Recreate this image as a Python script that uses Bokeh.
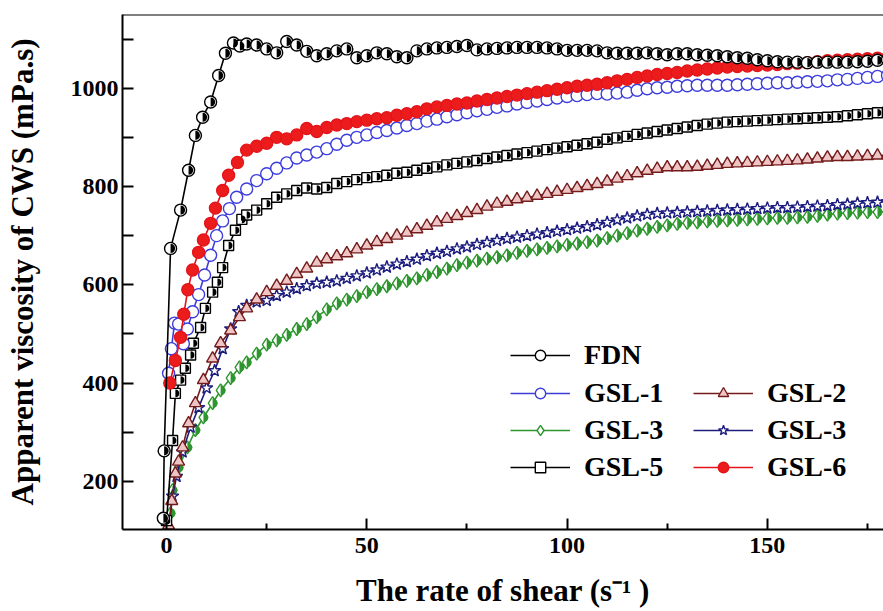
import math
from bokeh.plotting import figure
from bokeh.models import FixedTicker, Legend, LegendItem, Span, ColumnDataSource
from bokeh.embed import file_html
from bokeh.resources import INLINE

# ---------------- data ----------------
shear_tail = [20, 22.5, 25, 27.5, 30, 32.5, 35, 37.5, 40, 42.5, 45, 47.5,
              50, 52.5, 55, 57.5, 60, 62.5, 65, 67.5, 70, 72.5, 75, 77.5,
              80, 82.5, 85, 87.5, 90, 92.5, 95, 97.5, 100, 102.5, 105, 107.5,
              110, 112.5, 115, 117.5, 120, 122.5, 125, 127.5, 130, 132.5, 135, 137.5,
              140, 142.5, 145, 147.5, 150, 152.5, 155, 157.5, 160, 162.5, 165, 167.5,
              170, 172.5, 175, 177.5, 180]

fdn_head_x = [-0.8, -0.6, 1, 3.5, 5.5, 7.2, 9, 11, 13, 14.7, 16.7, 18.3]
fdn_head_y = [125, 262, 674, 752, 833, 904, 941, 972, 1026, 1071, 1092, 1086]
fdn_tail_y = [1090, 1088, 1080, 1072, 1095, 1088, 1075, 1066, 1070, 1076, 1080, 1062,
              1066, 1072, 1070, 1064, 1062, 1076, 1080, 1082, 1083, 1085, 1087, 1078,
              1080, 1081, 1082, 1083, 1083, 1083, 1082, 1080, 1077, 1077, 1077, 1076,
              1072, 1071, 1071, 1071, 1072, 1070, 1068, 1070, 1070, 1068, 1067, 1066,
              1064, 1062, 1061, 1058, 1056, 1054, 1053, 1053, 1052, 1053, 1053, 1053,
              1053, 1054, 1055, 1057, 1058]

gsl6_head_x = [0.8, 2.2, 3.5, 4.3, 5.3, 6.5, 8, 9.2, 11, 12.2, 14, 15.5, 17.7]
gsl6_head_y = [400, 446, 493, 540, 590, 630, 666, 691, 725, 756, 792, 823, 849]
gsl6_tail_y = [874, 882, 888, 900, 897, 905, 918, 912, 920, 925, 928, 932,
               935, 938, 940, 945, 948, 952, 958, 962, 965, 968, 970, 974,
               977, 980, 983, 986, 989, 992, 995, 998, 1001, 1004, 1006, 1008,
               1011, 1015, 1018, 1022, 1025, 1028, 1030, 1032, 1035, 1037, 1039, 1041,
               1043, 1044, 1045, 1046, 1047, 1048, 1050, 1051, 1052, 1054, 1056, 1057,
               1058, 1059, 1060, 1061, 1062]

gsl1_head_x = [0.5, 1.2, 2, 3, 4.2, 5.2, 6.5, 8, 9.5, 11, 12.5, 14, 15.7, 17.5]
gsl1_head_y = [420, 470, 522, 520, 480, 510, 545, 580, 620, 660, 700, 730, 755, 778]
gsl1_tail_y = [795, 812, 826, 837, 848, 858, 864, 870, 877, 886, 894, 900,
               905, 910, 914, 919, 924, 928, 933, 937, 942, 946, 950, 954,
               957, 961, 964, 968, 971, 974, 977, 980, 983, 985, 987, 989,
               988, 990, 992, 996, 999, 1001, 1002, 1004, 1005, 1006, 1006, 1006,
               1006, 1007, 1008, 1009, 1010, 1011, 1011, 1012, 1013, 1014, 1015, 1017,
               1018, 1020, 1022, 1024, 1026]

gsl5_head_x = [0, 1.5, 2.2, 3.5, 4.7, 6, 6.7, 8.5, 9.7, 11.5, 12.7, 14, 15.5, 17.2, 18.8]
gsl5_head_y = [120, 283, 379, 406, 430, 457, 481, 513, 552, 585, 605, 635, 680, 711, 733]
gsl5_tail_y = [742, 752, 765, 778, 785, 792, 797, 795, 798, 806, 810, 814,
               818, 820, 823, 827, 829, 833, 837, 840, 844, 847, 850, 853,
               857, 860, 863, 866, 869, 872, 875, 878, 881, 884, 887, 890,
               896, 899, 902, 906, 909, 912, 915, 918, 921, 924, 927, 929,
               931, 932, 933, 934, 935, 936, 937, 938, 939, 940, 941, 942,
               944, 946, 948, 950, 951]

gsl2_head_x = [0.5, 1.3, 2.2, 3, 4, 5.5, 7.2, 9.2, 11.5, 13.5, 16, 18.2]
gsl2_head_y = [110, 160, 216, 240, 269, 318, 359, 406, 450, 481, 507, 534]
gsl2_tail_y = [552, 570, 585, 598, 608, 622, 633, 645, 652, 658, 664, 672,
               680, 687, 693, 700, 706, 713, 720, 727, 734, 740, 746, 752,
               759, 765, 769, 774, 777, 781, 785, 789, 793, 797, 801, 805,
               810, 816, 821, 827, 832, 836, 839, 839, 839, 840, 842, 844,
               846, 847, 848, 849, 850, 851, 852, 853, 855, 857, 859, 860,
               860, 861, 862, 863, 864]

gsl4_head_x = [0.5, 1.5, 2.5, 4, 6, 8, 10, 12, 14, 16, 18]
gsl4_head_y = [100, 170, 210, 260, 310, 350, 390, 425, 470, 510, 545]
gsl4_tail_y = [558, 565, 568, 578, 585, 592, 598, 603, 605, 608, 613, 618,
               624, 630, 636, 642, 647, 652, 659, 664, 668, 673, 677, 682,
               686, 690, 694, 697, 700, 703, 706, 709, 712, 715, 718, 722,
               727, 732, 736, 740, 743, 745, 746, 747, 748, 749, 750, 751,
               752, 753, 754, 755, 756, 757, 757, 758, 759, 760, 761, 763,
               764, 766, 767, 768, 769]

gsl3_head_x = [1, 1.5, 3, 5.2, 7.2, 9.2, 11.5, 13.5, 16, 18.2]
gsl3_head_y = [135, 182, 228, 269, 304, 330, 359, 385, 410, 432]
gsl3_tail_y = [442, 460, 478, 487, 498, 510, 520, 534, 550, 562, 570, 577,
               585, 591, 597, 603, 608, 613, 620, 626, 633, 640, 645, 649,
               653, 656, 660, 665, 669, 672, 675, 678, 681, 684, 687, 690,
               695, 700, 705, 710, 714, 718, 721, 724, 726, 727, 729, 730,
               731, 732, 733, 734, 735, 736, 736, 737, 738, 740, 743, 745,
               746, 747, 748, 748, 749]

x_major = [0, 50, 100, 150]
x_minor = [25, 75, 125, 175]
y_major = [200, 400, 600, 800, 1000]
y_minor = [100, 300, 500, 700, 900, 1100]

X_MIN, X_MAX = -11, 179
Y_MIN, Y_MAX = 102, 1150

FONT = "Liberation Serif"

# ---------------- figure ----------------
p = figure(width=883, height=611, x_range=(X_MIN, X_MAX), y_range=(Y_MIN, Y_MAX),
           output_backend="svg", toolbar_location=None,
           min_border_left=122, min_border_right=0, min_border_top=14, min_border_bottom=82)
p.outline_line_color = None
p.background_fill_color = "white"
p.border_fill_color = "white"
p.xgrid.visible = False
p.ygrid.visible = False

p.xaxis.ticker = FixedTicker(ticks=x_major, minor_ticks=x_minor)
p.yaxis.ticker = FixedTicker(ticks=y_major, minor_ticks=y_minor)

for ax in (p.xaxis[0], p.yaxis[0]):
    ax.axis_line_color = "black"
    ax.axis_line_width = 2
    ax.major_tick_line_color = "black"
    ax.major_tick_line_width = 2
    ax.minor_tick_line_color = "black"
    ax.minor_tick_line_width = 2
    ax.major_tick_out = 0
    ax.minor_tick_out = 0
    ax.major_label_text_font = FONT
    ax.major_label_text_font_style = "bold"
    ax.major_label_text_font_size = "24px"
    ax.major_label_text_color = "black"
    ax.axis_label_text_font = FONT
    ax.axis_label_text_font_style = "bold"
    ax.axis_label_text_font_size = "31px"
    ax.axis_label_text_color = "black"

p.xaxis.major_tick_in = 11
p.xaxis.minor_tick_in = 6
p.yaxis.major_tick_in = 11
p.yaxis.minor_tick_in = 11
p.xaxis.major_label_standoff = 8
p.yaxis.major_label_standoff = 4
p.xaxis.axis_label = "The rate of shear (s\u207b\u00b9 )"
p.yaxis.axis_label = "Apparent viscosity of CWS (mPa.s)"
p.xaxis.axis_label_standoff = 17
p.yaxis.axis_label_standoff = 28

p.add_layout(Span(location=Y_MAX, dimension="width", line_color="black", line_width=2))

# ---------------- series ----------------
series = [
    dict(key="gsl3", label="GSL-3", hx=gsl3_head_x, hy=gsl3_head_y, ty=gsl3_tail_y,
         marker="diamond", line="#2e962e", fill="white", half="#2e962e", size=13),
    dict(key="gsl4", label="GSL-3", hx=gsl4_head_x, hy=gsl4_head_y, ty=gsl4_tail_y,
         marker="star", line="#1d1d80", fill="white", half=None, size=13),
    dict(key="gsl2", label="GSL-2", hx=gsl2_head_x, hy=gsl2_head_y, ty=gsl2_tail_y,
         marker="triangle", line="#741c1c", fill="#efc4c4", half=None, size=12),
    dict(key="gsl5", label="GSL-5", hx=gsl5_head_x, hy=gsl5_head_y, ty=gsl5_tail_y,
         marker="square", line="black", fill="white", half="black", size=10),
    dict(key="gsl1", label="GSL-1", hx=gsl1_head_x, hy=gsl1_head_y, ty=gsl1_tail_y,
         marker="circle", line="#3d3ddc", fill="white", half=None, size=12),
    dict(key="gsl6", label="GSL-6", hx=gsl6_head_x, hy=gsl6_head_y, ty=gsl6_tail_y,
         marker="circle", line="#e3141a", fill="#ec1c1c", half=None, size=12),
    dict(key="fdn", label="FDN", hx=fdn_head_x, hy=fdn_head_y, ty=fdn_tail_y,
         marker="circle", line="black", fill="white", half="black", size=12),
]

rend = {}
for s in series:
    src = ColumnDataSource(dict(x=s["hx"] + shear_tail, y=s["hy"] + s["ty"]))
    ln = p.line("x", "y", source=src, line_color=s["line"], line_width=1.6)
    sc = p.scatter("x", "y", source=src, marker=s["marker"], size=s["size"],
                   line_color=s["line"], fill_color=s["fill"], line_width=1.4)
    if s["half"] is not None:
        p.wedge("x", "y", source=src, radius=s["size"] * 0.38, radius_units="screen",
                start_angle=-math.pi / 2, end_angle=math.pi / 2,
                fill_color=s["half"], line_color=None)
    rend[s["key"]] = (s["label"], [ln, sc])


def make_legend(keys, loc):
    items = [LegendItem(label=rend[k][0], renderers=rend[k][1]) for k in keys]
    lg = Legend(items=items, location=loc, orientation="vertical",
                glyph_width=60, glyph_height=26, label_height=26,
                label_standoff=14, spacing=5, padding=0, margin=0,
                border_line_color=None, background_fill_alpha=0,
                label_text_font=FONT, label_text_font_style="bold",
                label_text_font_size="28px", label_text_color="black")
    p.add_layout(lg)


make_legend(["fdn"], (388, 158))
make_legend(["gsl1", "gsl3", "gsl5"], (388, 46))
make_legend(["gsl2", "gsl4", "gsl6"], (571, 46))

open("out.html", "w").write(file_html(p, INLINE))
